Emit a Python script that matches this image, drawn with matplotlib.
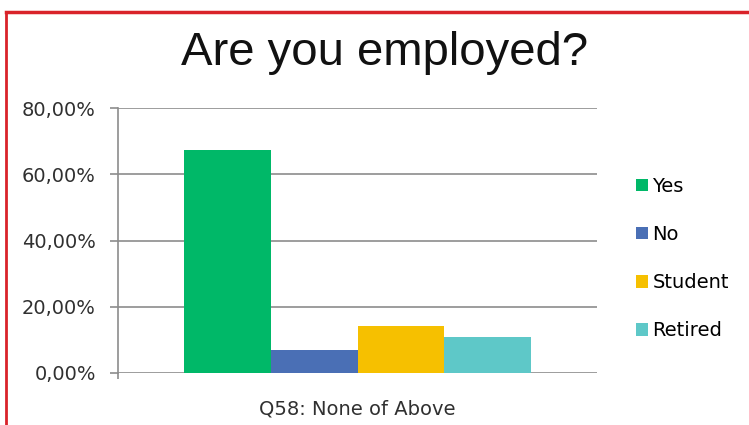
import numpy as np
import matplotlib.pyplot as plt
from matplotlib.lines import Line2D
from matplotlib.ticker import FuncFormatter

# Data
category = 'Q58: None of Above'
labels = ['Yes', 'No', 'Student', 'Retired']
values = [67.3, 6.9, 14.2, 10.9]
colors = ['#00b868', '#4a6fb5', '#f6c000', '#5ec8c8']
yticks = [0, 20, 40, 60, 80]

W, H = 749, 425
fig = plt.figure(figsize=(W / 100, H / 100), dpi=100)
ax = fig.add_axes([118 / W, 1 - 373 / H, (597 - 118) / W, (373 - 108) / H])

# Bars
group = 0.724
bw = group / len(labels)
offsets = (np.arange(len(labels)) - (len(labels) - 1) / 2) * bw
for off, v, c, lab in zip(offsets, values, colors, labels):
    ax.bar(off, v, width=bw, color=c, label=lab, zorder=3)

ax.set_xlim(-0.5, 0.5)
ax.set_ylim(0, 80)
ax.set_yticks(yticks)
ax.yaxis.set_major_formatter(FuncFormatter(lambda v, p: f'{v:.2f}'.replace('.', ',') + '%'))
ax.set_xticks([0])
ax.set_xticklabels([category])
ax.set_xticks([-0.5], minor=True)
ax.grid(axis='y', color='#8c8c8c', linewidth=1.2, zorder=0)
for s in ['top', 'right', 'bottom']:
    ax.spines[s].set_visible(False)
ax.spines['left'].set_color('#8c8c8c')
ax.spines['left'].set_linewidth(1.2)
ax.tick_params(axis='y', length=6, width=1.2, color='#8c8c8c', labelsize=14,
               labelcolor='#303030', pad=10)
ax.tick_params(axis='x', which='major', length=0, labelsize=14, labelcolor='#303030', pad=19)
ax.tick_params(axis='x', which='minor', length=4, width=1.2, color='#8c8c8c')
for t in ax.get_yticklabels() + ax.get_xticklabels():
    t.set_family(['DejaVu Sans'])

# Title
fig.text(385 / W, 1 - 65 / H, 'Are you employed?', ha='center', va='baseline',
         fontsize=34, family=['Liberation Sans', 'DejaVu Sans'], color='#111111')

# Legend
leg = fig.legend(loc='upper left', bbox_to_anchor=(636 / W, 1 - 177 / H), frameon=False,
                 handlelength=0.6, handleheight=0.6, handletextpad=0.25,
                 labelspacing=1.5, borderaxespad=0, borderpad=0,
                 prop={'family': 'DejaVu Sans', 'size': 14})

# Red frame
fig.add_artist(Line2D([6 / W, 6 / W], [0, 1 - 12 / H], color='#d9232a', linewidth=2))
fig.add_artist(Line2D([6 / W, 1], [1 - 12 / H, 1 - 12 / H], color='#d9232a', linewidth=2.5))

fig.savefig('out.png', dpi=100)
